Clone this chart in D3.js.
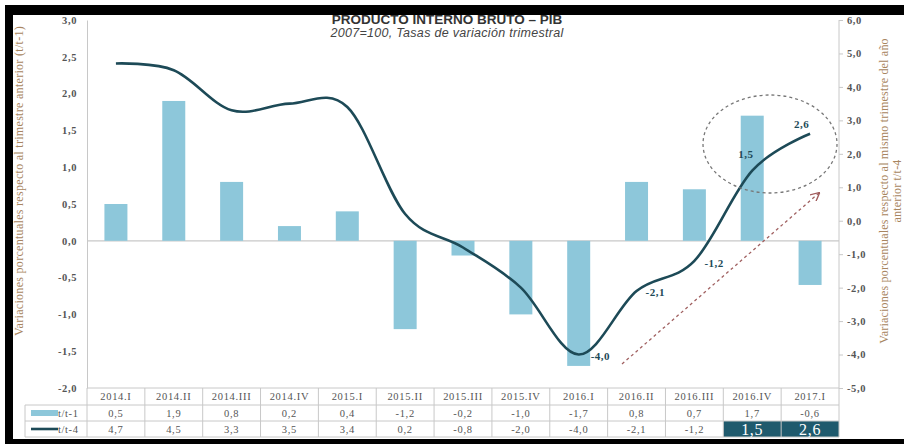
<!DOCTYPE html>
<html><head><meta charset="utf-8">
<script src="https://cdn.jsdelivr.net/npm/d3@7"></script>
<style>body{margin:0;background:#fff}svg{display:block}</style>
</head><body>
<svg id="c" width="904" height="444"></svg>
<script>
const categories = ["2014.I","2014.II","2014.III","2014.IV","2015.I","2015.II","2015.III","2015.IV","2016.I","2016.II","2016.III","2016.IV","2017.I"];
const qoq = [0.5,1.9,0.8,0.2,0.4,-1.2,-0.2,-1.0,-1.7,0.8,0.7,1.7,-0.6];
const yoy = [4.7,4.5,3.3,3.5,3.4,0.2,-0.8,-2.0,-4.0,-2.1,-1.2,1.5,2.6];
const leftTicks = [-2,-1.5,-1,-0.5,0,0.5,1,1.5,2,2.5,3];
const rightTicks = [-5,-4,-3,-2,-1,0,1,2,3,4,5,6];
const seriesNames = ["t/t-1","t/t-4"];
const labelledIdx = [8,9,10,11,12];
const highlightIdx = [11,12];

const fmt = v => d3.format(".1f")(v).replace(".", ",").replace("−","-");
const svg = d3.select("#c");
const L = 87, R = 839, T = 20, B = 388;
const x = d3.scaleBand().domain(categories).range([L, R]).padding(0);
const yL = d3.scaleLinear().domain([-2, 3]).range([B, T]);
const yR = d3.scaleLinear().domain([-5, 6]).range([B, T]);
const barC = "#8dc7da", lineC = "#1d4a57", grid = "#c8c8c8";
const serif = "'Liberation Serif','DejaVu Serif',serif";

// left axis
const gL = svg.append("g").attr("transform", `translate(${L},0)`)
  .call(d3.axisLeft(yL).tickValues(leftTicks).tickSize(0).tickPadding(10).tickFormat(fmt));
gL.select(".domain").attr("stroke", grid);
gL.selectAll("text").attr("font-family", serif).attr("font-size", 10.5).attr("font-weight", "bold").attr("letter-spacing", 0.6).attr("fill", "#555");

// right axis
const gR = svg.append("g").attr("transform", `translate(${R},0)`)
  .call(d3.axisRight(yR).tickValues(rightTicks).tickSize(4).tickPadding(4).tickFormat(fmt));
gR.select(".domain").attr("stroke", grid).attr("d", `M0,${T}V${B}`);
gR.selectAll("line").attr("stroke", grid);
gR.selectAll("text").attr("font-family", serif).attr("font-size", 10.5).attr("font-weight", "bold").attr("letter-spacing", 0.6).attr("fill", "#555");

// zero line
svg.append("line").attr("x1", L).attr("x2", R).attr("y1", yL(0)).attr("y2", yL(0)).attr("stroke", grid).attr("stroke-width", 1.2);

// bars
const bw = 23;
svg.append("g").selectAll("rect").data(qoq).join("rect")
  .attr("x", (d, i) => x(categories[i]) + x.bandwidth() / 2 - bw / 2)
  .attr("y", d => yL(Math.max(0, d)))
  .attr("width", bw)
  .attr("height", d => Math.abs(yL(d) - yL(0)))
  .attr("fill", barC);

// line
const line = d3.line().x((d, i) => x(categories[i]) + x.bandwidth() / 2).y(d => yR(d)).curve(d3.curveCardinal.tension(0));
svg.append("path").datum(yoy).attr("d", line).attr("fill", "none").attr("stroke", lineC).attr("stroke-width", 2.6);

// data labels
const offs = {8: [12, 5], 9: [9, 5], 10: [10, 6], 11: [-14, -13], 12: [-16, -6]};
svg.append("g").selectAll("text").data(labelledIdx).join("text")
  .attr("x", i => x(categories[i]) + x.bandwidth() / 2 + offs[i][0])
  .attr("y", i => yR(yoy[i]) + offs[i][1])
  .attr("font-family", serif).attr("font-size", 11).attr("font-weight", "bold").attr("letter-spacing", 0.5).attr("fill", "#1d4a57")
  .text(i => fmt(yoy[i]));

// dashed ellipse
svg.append("ellipse").attr("cx", 770).attr("cy", 144).attr("rx", 67).attr("ry", 49)
  .attr("fill", "none").attr("stroke", "#777").attr("stroke-width", 1.3).attr("stroke-dasharray", "3,3");
// dashed arrow
svg.append("defs").append("marker").attr("id", "ah").attr("viewBox", "0 0 10 10").attr("refX", 9).attr("refY", 5)
  .attr("markerWidth", 7).attr("markerHeight", 7).attr("orient", "auto")
  .append("path").attr("d", "M0,0L10,5L0,10").attr("fill", "none").attr("stroke", "#a05a5a").attr("stroke-width", 1.5);
svg.append("line").attr("x1", 622).attr("y1", 364).attr("x2", 819).attr("y2", 193)
  .attr("stroke", "#a06060").attr("stroke-width", 1.3).attr("stroke-dasharray", "3,3").attr("marker-end", "url(#ah)");

// table
const rows = [B, 405, 421, 437];
const tg = svg.append("g");
tg.append("rect").attr("x", L + x.bandwidth() * 11).attr("y", rows[2]).attr("width", x.bandwidth() * 2).attr("height", rows[3] - rows[2]).attr("fill", "#1f5a6d");
rows.forEach((yv, k) => tg.append("line").attr("x1", k === 0 ? L : 25).attr("x2", R).attr("y1", yv).attr("y2", yv).attr("stroke", grid));
categories.forEach((c, i) => tg.append("line").attr("x1", x(c)).attr("x2", x(c)).attr("y1", rows[0]).attr("y2", rows[3]).attr("stroke", grid));
tg.append("line").attr("x1", R).attr("x2", R).attr("y1", rows[0]).attr("y2", rows[3]).attr("stroke", grid);
tg.append("line").attr("x1", 25).attr("x2", 25).attr("y1", rows[1]).attr("y2", rows[3]).attr("stroke", grid);
const cx = c => x(c) + x.bandwidth() / 2;
const tcell = sel => sel.attr("text-anchor", "middle").attr("font-family", serif).attr("font-size", 10.5).attr("letter-spacing", 0.7).attr("fill", "#555");
tg.selectAll(".cat").data(categories).join("text").attr("x", cx).attr("y", 400).call(tcell).text(d => d);
tg.selectAll(".v1").data(qoq).join("text").attr("x", (d, i) => cx(categories[i])).attr("y", 417).call(tcell).text(fmt);
tg.selectAll(".v2").data(yoy).join("text").attr("x", (d, i) => cx(categories[i])).attr("y", (d, i) => highlightIdx.includes(i) ? 434.5 : 433).call(tcell)
  .attr("font-size", (d, i) => highlightIdx.includes(i) ? 16 : 10.5)
  .attr("fill", (d, i) => highlightIdx.includes(i) ? "#fff" : "#555").text(fmt);
// legend
tg.append("rect").attr("x", 31).attr("y", 410).attr("width", 27).attr("height", 6).attr("fill", barC);
tg.append("line").attr("x1", 31).attr("x2", 58).attr("y1", 429).attr("y2", 429).attr("stroke", lineC).attr("stroke-width", 2.6);
tg.selectAll(".lg").data(seriesNames).join("text").attr("x", 58).attr("y", (d, i) => i ? 433 : 417)
  .attr("font-family", serif).attr("font-size", 10.5).attr("letter-spacing", 0.6).attr("fill", "#555").text(d => d);

// axis titles
svg.append("text").attr("transform", "translate(23,181) rotate(-90)").attr("text-anchor", "middle")
  .attr("font-family", "'Liberation Serif',serif").attr("font-size", 12).attr("letter-spacing", 0.3).attr("fill", "#a88560")
  .text("Variaciones porcentuales respecto al trimestre anterior (t/t-1)");
const rt = svg.append("text").attr("transform", "translate(888,191) rotate(-90)").attr("text-anchor", "middle")
  .attr("font-family", "'Liberation Serif',serif").attr("font-size", 12).attr("letter-spacing", 0.2).attr("fill", "#a88560");
rt.append("tspan").attr("x", 0).attr("dy", 0).text("Variaciones porcentuales respecto al mismo trimestre del año");
rt.append("tspan").attr("x", 0).attr("dy", 13).text("anterior t/t-4");

// titles
svg.append("text").attr("x", 447).attr("y", 24).attr("text-anchor", "middle").attr("font-family", "'Liberation Sans',Arial,sans-serif")
  .attr("font-size", 13.5).attr("font-weight", "bold").attr("fill", "#333").text("PRODUCTO INTERNO BRUTO – PIB");
svg.append("text").attr("x", 447).attr("y", 37).attr("text-anchor", "middle").attr("font-family", "'Liberation Sans',Arial,sans-serif")
  .attr("font-size", 12.5).attr("font-style", "italic").attr("letter-spacing", 0.3).attr("fill", "#444").text("2007=100,  Tasas de variación trimestral");

// frame
svg.append("rect").attr("x", 5).attr("y", 5).attr("width", 899).attr("height", 10).attr("fill", "#000");
svg.append("rect").attr("x", 5).attr("y", 5).attr("width", 8).attr("height", 439).attr("fill", "#000");
svg.append("rect").attr("x", 5).attr("y", 439).attr("width", 899).attr("height", 5).attr("fill", "#000");
</script>
</body></html>
